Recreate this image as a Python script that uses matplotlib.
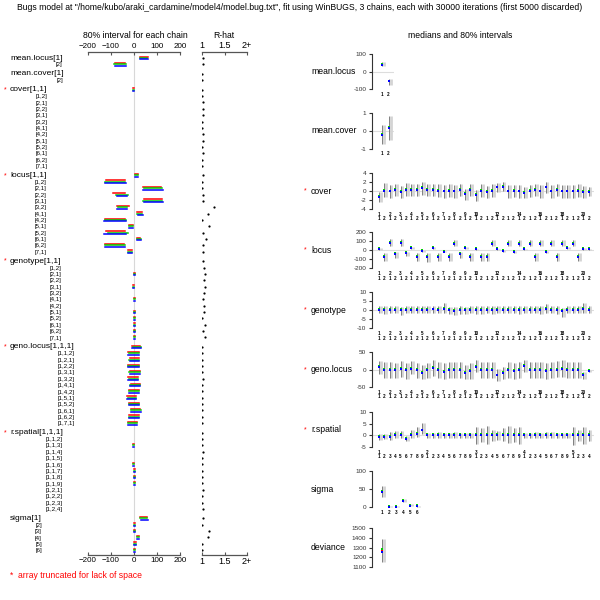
import numpy as np
import matplotlib.pyplot as plt
from matplotlib.transforms import blended_transform_factory, offset_copy

plt.rcParams['font.family'] = ['Liberation Sans', 'DejaVu Sans']

title = ('Bugs model at "/home/kubo/araki_cardamine/model4/model.bug.txt", fit using WinBUGS, '
         '3 chains, each with 30000 iterations (first 5000 discarded)')

chain_cols = ['#ff0000', '#00cd00', '#0000ff']

# ---------------- left panel: rows ----------------
group_names = ['mean.locus', 'mean.cover', 'cover', 'locus', 'genotype',
               'geno.locus', 'r.spatial', 'sigma']
group_trunc = [False, False, True, True, True, True, True, False]
idx_1d2 = ['[1]', '[2]']
idx_2d = ['[1,1]', '[1,2]', '[2,1]', '[2,2]', '[3,1]', '[3,2]', '[4,1]',
          '[4,2]', '[5,1]', '[5,2]', '[6,1]', '[6,2]', '[7,1]']
idx_gl = ['[1,1,1]', '[1,1,2]', '[1,2,1]', '[1,2,2]', '[1,3,1]', '[1,3,2]', '[1,4,1]',
          '[1,4,2]', '[1,5,1]', '[1,5,2]', '[1,6,1]', '[1,6,2]', '[1,7,1]']
idx_rs = ['[1,1,1]', '[1,1,2]', '[1,1,3]', '[1,1,4]', '[1,1,5]', '[1,1,6]', '[1,1,7]',
          '[1,1,8]', '[1,1,9]', '[1,2,1]', '[1,2,2]', '[1,2,3]', '[1,2,4]']
idx_sigma = ['[1]', '[2]', '[3]', '[4]', '[5]', '[6]']

# ---------------- right panel summaries ----------------
mean_locus_med = [40, -57]
mean_locus_lo = [30, -75]
mean_locus_hi = [52, -40]

mean_cover_med = [-0.2, 0.15]
mean_cover_lo = [-0.7, -0.5]
mean_cover_hi = [0.35, 0.85]

cover_med = [-1.3, 0.1, -0.1, 0.3, -0.2, 0.3, 0.3, 0.2, 0.6, 0.2, 0.2, 0.1, -0.1, 0.1,
             -0.1, 0.3, -0.6, 0.2, -0.9, 0.1, -0.2, 0.1, 0.8, 1.0, -0.1, 0.0, -0.1, -0.35,
             0.0, 0.2, -0.1, 0.8, -0.1, 0.2, -0.1, -0.1, -0.1, 0.1, -0.2, -0.2]
cover_lo = [-2.4, -1.4, -1.5, -1.1, -1.6, -1.1, -1.1, -1.2, -0.8, -1.2, -1.2, -1.3, -1.5,
            -1.3, -1.5, -1.1, -1.9, -1.2, -2.2, -1.3, -1.6, -1.3, -0.3, -0.1, -1.5, -1.4,
            -1.5, -1.6, -1.4, -1.2, -1.5, -0.4, -1.5, -1.2, -1.5, -1.5, -1.5, -1.3, -1.6, -1.2]
cover_hi = [-0.3, 1.7, 1.3, 1.6, 1.2, 1.7, 1.6, 1.6, 1.9, 1.6, 1.6, 1.5, 1.3, 1.5, 1.3,
            1.6, 0.5, 1.6, 0.3, 1.5, 1.2, 1.5, 1.8, 1.9, 1.3, 1.4, 1.3, 0.9, 1.4, 1.6, 1.3,
            1.9, 1.3, 1.6, 1.3, 1.3, 1.3, 1.5, 1.2, 0.8]

locus_med = [11, -78, 75, -45, 75, -37, 26, -78, -13, -78, 18, -78, -18, -78, 70, -45, 18,
             -78, 7, -78, -78, 70, 7, -11, 70, -22, 70, 7, 70, -78, 70, -22, 70, -78, 70,
             26, 70, -78, 11, 7]
locus_lo = [4, -126, 40, -90, 40, -72, 13, -126, -22, -128, 12, -126, -26, -126, 40, -90,
            10, -126, 0, -126, -126, 40, 0, -20, 40, -32, 40, 0, 40, -126, 40, -32, 40,
            -126, 40, 14, 40, -126, 4, 0]
locus_hi = [18, -36, 120, -26, 122, -22, 38, -36, -4, -35, 30, -38, -9, -38, 115, -26, 28,
            -38, 14, -38, -38, 115, 14, -2, 115, -12, 115, 14, 115, -38, 115, -12, 115,
            -38, 115, 38, 115, -38, 18, 14]

genotype_med = [0.1, 0.0, 0.2, 0.1, -0.1, 0.1, 0.1, 0.1, 0.1, 0.2, 0.3, 0.2, 0.8, -0.1,
                -0.3, 0.0, 0.0, 0.1, 0.0, 0.0, 0.1, 0.0, 0.1, 0.1, 0.1, 0.1, 0.0, 0.1, 0.1,
                0.1, 0.0, 0.7, 0.1, 0.0, -0.7, 0.2, 0.1, 0.1, 0.6, 0.1]
genotype_lo = [-1.8, -2.0, -1.8, -1.9, -2.6, -1.9, -1.8, -1.8, -1.9, -1.8, -1.6, -1.7,
               -1.5, -2.4, -2.8, -2.0, -2.1, -1.9, -2.0, -2.0, -1.9, -2.0, -1.9, -1.9,
               -1.9, -1.9, -2.0, -1.9, -1.9, -1.8, -2.0, -1.4, -1.9, -2.0, -4.0, -1.8,
               -1.9, -1.9, -1.5, -1.9]
genotype_hi = [2.0, 2.0, 2.3, 2.1, 1.8, 2.1, 2.2, 2.1, 2.2, 2.4, 2.5, 2.3, 4.0, 1.9, 1.6,
               2.0, 1.9, 2.1, 2.0, 2.0, 2.1, 2.0, 2.1, 2.1, 2.1, 2.2, 2.0, 2.1, 2.1, 2.2,
               2.0, 3.2, 2.1, 2.0, 1.0, 2.2, 2.1, 2.1, 3.8, 2.0]

geno_locus_med = [7, -1, -1, -1, 2, -2, 2, -2, -9, -2, 4, -1, -6, -1, -1, -1, -9, -3, 8,
                  -1, -1, -1, -17, -10, -1, -5, -1, 9, -1, -1, -1, -4, -1, 0, 2, -1, -1,
                  -1, -16, -4]
geno_locus_lo = [-14, -24, -23, -24, -22, -26, -14, -25, -28, -25, -18, -24, -27, -25,
                 -24, -24, -28, -26, -8, -24, -25, -24, -34, -28, -24, -28, -24, -8, -23,
                 -24, -24, -26, -23, -21, -20, -24, -24, -24, -26, -8]
geno_locus_hi = [24, 22, 21, 20, 24, 20, 24, 20, 14, 20, 26, 21, 18, 22, 21, 22, 12, 19,
                 28, 21, 22, 21, 2, 8, 22, 20, 22, 26, 22, 21, 22, 18, 22, 23, 26, 22, 22,
                 22, -8, 0]

r_spatial_med = [-0.7, -0.6, -0.7, 0.3, 0.3, -1.4, 0.3, 0.7, 2.1, 0.0, 0.0, 0.1, 0.0, 0.0,
                 0.1, 0.0, 0.0, 0.0, 0.0, 0.0, 0.0, 0.0, 0.0, 0.0, 0.0, 0.0, 0.0, 0.0, 0.0,
                 0.1, 0.0, 0.0, 0.0, 0.0, 0.0, 0.0, 0.0, 0.0, 0.0, 0.1]
r_spatial_lo = [-2.0, -1.7, -2.2, -1.0, -1.0, -2.5, -1.3, -0.5, 0.5, -1.2, -1.2, -1.1,
                -1.2, -1.2, -1.1, -1.2, -1.2, -1.2, -3.5, -3.0, -3.5, -2.5, -2.0, -2.5,
                -3.3, -2.8, -3.5, -1.2, -1.2, -1.1, -1.2, -1.3, -1.3, -1.0, -1.0, -1.2,
                -4.0, -2.5, -3.5, -2.5]
r_spatial_hi = [0.5, 0.5, 1.3, 1.8, 1.8, -0.3, 2.2, 3.5, 5.2, 1.2, 1.2, 1.3, 1.2, 1.2, 1.3,
                1.2, 1.2, 1.2, 3.5, 3.0, 4.0, 2.5, 2.0, 3.0, 3.8, 3.2, 3.5, 1.2, 1.2, 1.3,
                1.2, 1.3, 1.3, 1.0, 1.0, 1.2, 3.5, 2.5, 3.5, 2.5]

sigma_med = [42, 1, 1, 18, 4, 2]
sigma_lo = [28, 0.2, 0.3, 14, 2, 0.8]
sigma_hi = [57, 3, 3, 22, 7, 4]

deviance_med = [1265]
deviance_lo = [1150]
deviance_hi = [1390]
deviance_chain_med = [[1262], [1280], [1256]]

# ---------------- left panel: per chain 80% intervals (red, green, blue) ----------------
mean_locus_chain_lo = [[28, -82], [25, -85], [27, -83]]
mean_locus_chain_hi = [[60, -38], [58, -35], [62, -36]]

locus_chain_lo = [[5, -122, 40, -92, 42, -75, 12, -124, -20, -122, 14, -124, -25],
                  [4, -126, 42, -78, 40, -70, 14, -128, -22, -115, 13, -126, -26],
                  [6, -128, 40, -75, 44, -72, 18, -130, -22, -130, 13, -128, -26]]
locus_chain_hi = [[17, -40, 118, -40, 120, -22, 34, -40, -6, -40, 28, -42, -10],
                  [18, -38, 122, -28, 122, -32, 36, -36, -4, -28, 30, -38, -9],
                  [16, -35, 126, -30, 126, -30, 39, -35, -4, -35, 30, -40, -9]]

geno_locus_chain_lo = [[-8, -24, -18, -24, -18, -24, -15, -20, -30, -22, -12, -20, -26],
                       [-6, -22, -20, -25, -20, -22, -17, -22, -28, -20, -13, -22, -24],
                       [-9, -26, -19, -26, -19, -26, -16, -21, -31, -22, -11, -21, -25]]
geno_locus_chain_hi = [[28, 20, 20, 20, 24, 16, 24, 20, 8, 20, 28, 20, 12],
                       [30, 22, 22, 22, 26, 17, 26, 22, 9, 22, 30, 22, 13],
                       [29, 21, 21, 22, 25, 17, 25, 22, 8, 21, 29, 21, 12]]

sigma_chain_lo = [[28, 0.2, 0.3, 14, 2, 0.8], [27, 0.2, 0.3, 14, 2, 0.8], [30, 0.2, 0.3, 15, 2, 0.8]]
sigma_chain_hi = [[58, 3, 3, 21, 7, 4], [56, 3, 3, 22, 7, 4], [60, 3, 3, 22, 7, 4]]

# ---------------- R-hat ----------------
rhat_mean_locus = [1.02, 1.03]
rhat_mean_cover = [1.01, 1.01]
rhat_cover = [1.01, 1.01, 1.02, 1.02, 1.03, 1.01, 1.01, 1.02, 1.02, 1.01, 1.03, 1.01, 1.01]
rhat_locus = [1.03, 1.01, 1.01, 1.03, 1.02, 1.27, 1.13, 1.01, 1.16, 1.03, 1.09, 1.02, 1.03]
rhat_genotype = [1.02, 1.05, 1.06, 1.04, 1.07, 1.05, 1.02, 1.04, 1.04, 1.01, 1.07, 1.02, 1.07]
rhat_geno_locus = [1.01, 1.01, 1.01, 1.01, 1.01, 1.02, 1.01, 1.01, 1.01, 1.01, 1.01, 1.01, 1.01]
rhat_r_spatial = [1.01, 1.01, 1.01, 1.02, 1.01, 1.01, 1.01, 1.01, 1.01, 1.02, 1.01, 1.01, 1.03]
rhat_sigma = [1.02, 1.01, 1.15, 1.14, 1.01, 1.01]

# ====================================================================
S = 600.0
fig = plt.figure(figsize=(6, 6), dpi=100)


def box(x0, y0, x1, y1):
    # pixel box measured from the top-left corner
    return fig.add_axes([x0 / S, 1 - y1 / S, (x1 - x0) / S, (y1 - y0) / S])


def fy(y):
    return 1 - y / S


fig.text(0.5, fy(8), title, ha='center', va='center', fontsize=6.2)
fig.text(135 / S, fy(35), '80% interval for each chain', ha='center', va='center', fontsize=6.2)
fig.text(224 / S, fy(35), 'R-hat', ha='center', va='center', fontsize=6.2)
fig.text(460 / S, fy(35), 'medians and 80% intervals', ha='center', va='center', fontsize=6.2)
fig.text(10 / S, fy(575), '*  array truncated for lack of space', color='red',
         ha='left', va='center', fontsize=6.2)

# row positions (group gap = half a row)
group_idx = [idx_1d2, idx_1d2, idx_2d, idx_2d, idx_2d, idx_gl, idx_rs, idx_sigma]
row_pos = []
p = 0.0
for idx in group_idx:
    row_pos.append(np.arange(len(idx)) + p)
    p += len(idx) + 0.5

ROW = 6.35
ylim = ((555 - 58) / ROW, -6 / ROW)

left_lo = [mean_locus_chain_lo, [mean_cover_lo] * 3, [cover_lo[:13]] * 3, locus_chain_lo,
           [genotype_lo[:13]] * 3, geno_locus_chain_lo, [r_spatial_lo[:13]] * 3, sigma_chain_lo]
left_hi = [mean_locus_chain_hi, [mean_cover_hi] * 3, [cover_hi[:13]] * 3, locus_chain_hi,
           [genotype_hi[:13]] * 3, geno_locus_chain_hi, [r_spatial_hi[:13]] * 3, sigma_chain_hi]
rhats = [rhat_mean_locus, rhat_mean_cover, rhat_cover, rhat_locus, rhat_genotype,
         rhat_geno_locus, rhat_r_spatial, rhat_sigma]

# interval panel
ax = box(88, 52, 180, 555)
ax.set_xlim(-200, 200)
ax.set_ylim(*ylim)
ax.axvline(0, color='#d8d8d8', lw=0.8, zorder=0)
for pos, lo, hi in zip(row_pos, left_lo, left_hi):
    for c, off in enumerate([-0.22, 0.0, 0.22]):
        lc = ax.hlines(pos + off, lo[c], hi[c], color=chain_cols[c], lw=1.1)
        lc.set_capstyle('projecting')
for s in ['left', 'right']:
    ax.spines[s].set_visible(False)
for s in ['top', 'bottom']:
    ax.spines[s].set_color('#555555')
    ax.spines[s].set_linewidth(0.9)
ax.set_yticks([])
ax.set_xticks([-200, -100, 0, 100, 200])
ax.xaxis.set_ticks_position('both')
ax.tick_params(axis='x', labeltop=True, labelbottom=True, direction='in', length=2,
               width=0.8, color='#555555', labelsize=5.8, pad=1.5)

# R-hat panel
axr = box(202, 52, 247, 555)
axr.set_xlim(1, 2)
axr.set_ylim(*ylim)
for pos, rh in zip(row_pos, rhats):
    axr.plot(np.minimum(rh, 2), pos, 'o', color='black', ms=1.6, mew=0)
for s in ['left', 'right']:
    axr.spines[s].set_visible(False)
for s in ['top', 'bottom']:
    axr.spines[s].set_color('#555555')
    axr.spines[s].set_linewidth(0.9)
axr.set_yticks([])
axr.set_xticks([1, 1.5, 2])
axr.set_xticklabels(['1', '1.5', '2+'])
axr.xaxis.set_ticks_position('both')
axr.tick_params(axis='x', labeltop=True, labelbottom=True, direction='in', length=2,
                width=0.8, color='#555555', labelsize=6.5, pad=1.5)

# row labels
trans = blended_transform_factory(fig.transFigure, ax.transData)
renderer = fig.canvas.get_renderer()
for name, idx, pos, tr in zip(group_names, group_idx, row_pos, group_trunc):
    t = fig.text(10 / S, pos[0], name + idx[0], transform=trans, ha='left', va='center',
                 fontsize=6.0)
    x_end = t.get_window_extent(renderer).x1 / S
    for lab, y in zip(idx[1:], pos[1:]):
        fig.text(x_end, y + 0.1, lab, transform=trans, ha='right', va='center',
                 fontsize=4.4)
    if tr:
        fig.text(5 / S, pos[0], '*', transform=trans, color='red', ha='center',
                 va='center', fontsize=5)


# ---------------- right panels ----------------
def panel(name, trunc, top, bottom, yticks, med, lo, hi, labels_top, labels_bot,
          spacing, first, chain_meds=None):
    n = len(med)
    width = first + (n - 1) * spacing + 5
    a = box(372, top, 372 + width, bottom)
    a.set_xlim(1 - first / spacing, n + 5 / spacing)
    a.set_ylim(yticks[0], yticks[-1])
    x = np.arange(1, n + 1)
    if yticks[0] < 0 < yticks[-1]:
        a.axhline(0, color='#dddddd', lw=0.8, zorder=0)
    a.vlines(x + 0.3, lo, hi, color='#d4d4d4', lw=2.0, clip_on=False)
    a.vlines(x, lo, hi, color='#808080', lw=0.7, clip_on=False)
    meds = chain_meds if chain_meds is not None else [med, med, med]
    for c, dy in enumerate([0.0, 0.9, 0.0]):
        tr = offset_copy(a.transData, fig=fig, x=0, y=dy, units='dots')
        a.plot(x, meds[c], 's', color=chain_cols[c], ms=1.5, mew=0, transform=tr,
               clip_on=False)
    for s in ['top', 'right', 'bottom']:
        a.spines[s].set_visible(False)
    a.spines['left'].set_color('#333333')
    a.spines['left'].set_linewidth(0.8)
    a.set_xticks([])
    a.set_yticks(yticks)
    a.set_yticklabels([('%g' % v) for v in yticks])
    a.tick_params(axis='y', length=2.5, width=0.8, color='#333333', labelsize=4.6,
                  pad=1.5, labelcolor='#333333')
    xt = blended_transform_factory(a.transData, fig.transFigure)
    for xi, lt in zip(x, labels_top):
        if lt:
            a.text(xi, fy(bottom + 5), lt, transform=xt, ha='center', va='center',
                   fontsize=3.3, fontweight='bold')
    for xi, lb in zip(x, labels_bot):
        if lb:
            a.text(xi, fy(bottom + 10), lb, transform=xt, ha='center', va='center',
                   fontsize=3.3, fontweight='bold')
    yc = (top + bottom) / 2
    fig.text(311 / S, fy(yc), name, ha='left', va='center', fontsize=6.2)
    if trunc:
        fig.text(305 / S, fy(yc), '*', color='red', ha='center', va='center', fontsize=5)
    return a


pairs = [(i, j) for i in range(1, 21) for j in (1, 2)]
shown_first = [1, 2, 3, 4, 5, 6, 7, 8, 9, 10, 12, 14, 16, 18, 20]
top2 = [str(i) if (j == 1 and i in shown_first) else '' for i, j in pairs]
bot2 = [str(j) for i, j in pairs]
rs_pairs = [(i, j) for i in range(1, 6) for j in range(1, 10)][:40]
rs_top = [str(i) if j == 1 else '' for i, j in rs_pairs]
rs_bot = [str(j) for i, j in rs_pairs]

panel('mean.locus', False, 54, 89, [-100, 0, 100], mean_locus_med, mean_locus_lo,
      mean_locus_hi, ['1', '2'], [], 6.6, 10)
panel('mean.cover', False, 113, 149, [-1, 0, 1], mean_cover_med, mean_cover_lo,
      mean_cover_hi, ['1', '2'], [], 6.6, 10)
panel('cover', True, 173, 209, [-4, -2, 0, 2, 4], cover_med, cover_lo, cover_hi,
      top2, bot2, 5.38, 7)
panel('locus', True, 232, 268, [-200, -100, 0, 100, 200], locus_med, locus_lo, locus_hi,
      top2, bot2, 5.38, 7)
panel('genotype', True, 292, 328, [-10, -5, 0, 5, 10], genotype_med, genotype_lo,
      genotype_hi, top2, bot2, 5.38, 7)
panel('geno.locus', True, 352, 387, [-50, 0, 50], geno_locus_med, geno_locus_lo,
      geno_locus_hi, top2, bot2, 5.38, 7)
panel('r.spatial', True, 412, 447, [-5, 0, 5, 10], r_spatial_med, r_spatial_lo,
      r_spatial_hi, rs_top, rs_bot, 5.38, 7)
panel('sigma', False, 471, 507, [0, 50, 100], sigma_med, sigma_lo, sigma_hi,
      ['1', '2', '3', '4', '5', '6'], [], 7.0, 10)
panel('deviance', False, 528, 567, [1100, 1200, 1300, 1400, 1500], deviance_med,
      deviance_lo, deviance_hi, [], [], 7.0, 10, chain_meds=deviance_chain_med)

fig.savefig('out.png', dpi=100)
